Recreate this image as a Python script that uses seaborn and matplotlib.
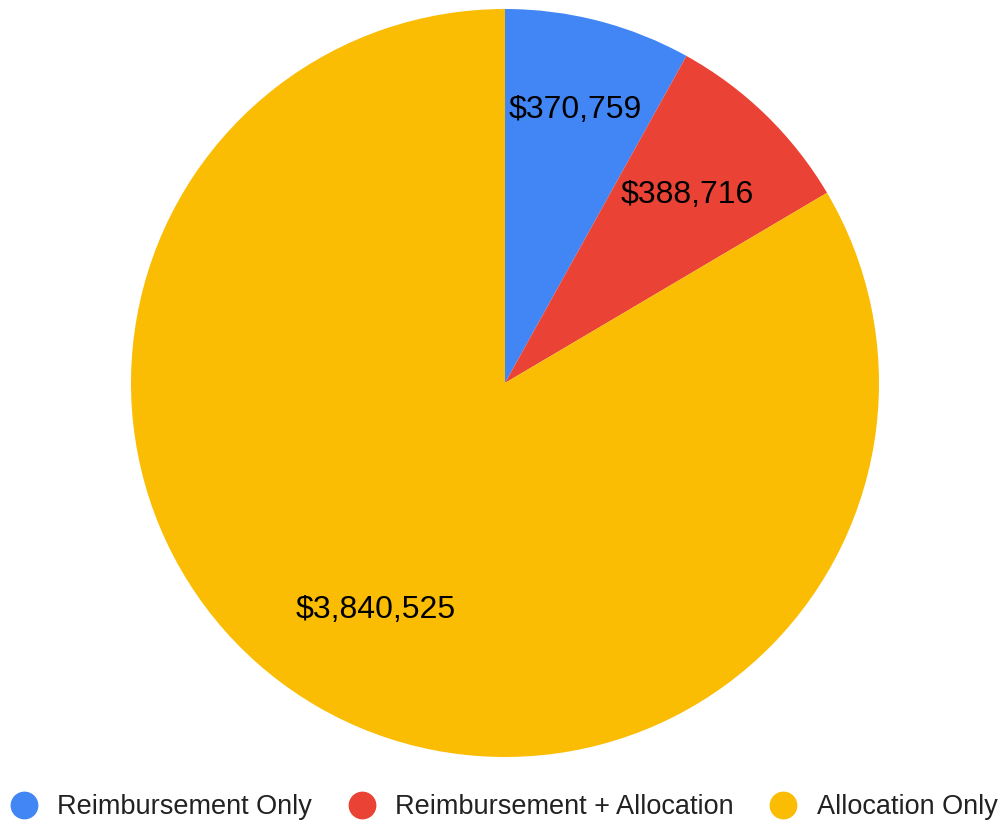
import matplotlib
matplotlib.use("Agg")
import matplotlib.pyplot as plt
import seaborn as sns
from matplotlib.lines import Line2D

sns.set_theme(style="white")
plt.rcParams['font.family'] = ['Liberation Sans', 'DejaVu Sans']

categories = ["Reimbursement Only", "Reimbursement + Allocation", "Allocation Only"]
values = [370759, 388716, 3840525]
colors = ["#4285F4", "#EA4335", "#FBBC04"]

fig = plt.figure(figsize=(10.06, 8.21), dpi=100)
ax = fig.add_axes([131/1006, 64/821, 748/1006, 748/821])
wedges, texts, autotexts = ax.pie(
    values, colors=colors, startangle=90, counterclock=False,
    autopct=lambda p: "", pctdistance=0.70, radius=1.0,
    wedgeprops=dict(linewidth=0))
for t, v in zip(autotexts, values):
    t.set_text(f"${v:,}")
    t.set_fontsize(23)
    t.set_color("black")
x, y = autotexts[0].get_position()
autotexts[0].set_position((x * 0.755 / 0.70, y * 0.755 / 0.70))
ax.set_xlim(-1, 1)
ax.set_ylim(-1, 1)
ax.set_aspect("auto")

handles = [Line2D([0], [0], marker='o', linestyle='', markersize=19,
                  markerfacecolor=c, markeredgecolor=c) for c in colors]
leg = fig.legend(handles, categories, loc="center", bbox_to_anchor=(0.501, 1 - 807/821),
                 ncol=3, frameon=False, fontsize=19.5, handletextpad=0.75,
                 columnspacing=1.32, handlelength=1.0)
for t in leg.get_texts():
    t.set_color("#222222")

fig.savefig("out.png", dpi=100)
